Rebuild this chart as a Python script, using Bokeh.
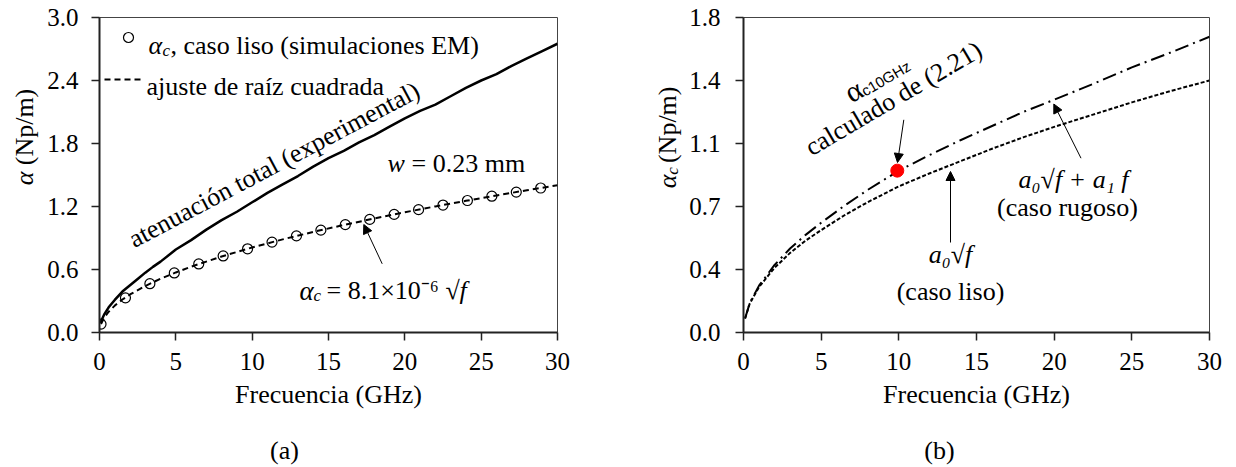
import math
from bokeh.plotting import figure
from bokeh.layouts import row, column
from bokeh.models import Range1d, FixedTicker, Arrow, NormalHead
from bokeh.core.properties import value
from bokeh.embed import file_html
from bokeh.resources import INLINE

# ---------------- data ----------------
x_ticks = [0, 5, 10, 15, 20, 25, 30]
y_ticks_a = [0.0, 0.6, 1.2, 1.8, 2.4, 3.0]
y_tick_labels_a = ["0.0", "0.6", "1.2", "1.8", "2.4", "3.0"]
y_ticks_b = [0.0, 0.36, 0.72, 1.08, 1.44, 1.8]
y_tick_labels_b = ["0.0", "0.4", "0.7", "1.1", "1.4", "1.8"]

# (a) total measured attenuation
freq_exp = [0.05, 0.3, 0.6, 1.0, 1.5, 2.0, 2.5, 3.0, 3.5, 4.0, 5.0, 6.0, 7.0, 8.0, 9.0,
            10.0, 11.0, 12.0, 13.0, 14.0, 15.0, 16.0, 17.0, 18.0, 19.0, 20.0, 21.0, 22.0,
            23.0, 24.0, 25.0, 26.0, 27.0, 28.0, 29.0, 30.0]
alpha_exp = [0.09, 0.17, 0.24, 0.31, 0.39, 0.45, 0.51, 0.57, 0.625, 0.675, 0.79, 0.88, 0.98,
             1.07, 1.15, 1.24, 1.33, 1.41, 1.49, 1.58, 1.66, 1.73, 1.81, 1.88, 1.96, 2.04,
             2.11, 2.17, 2.25, 2.33, 2.40, 2.46, 2.54, 2.61, 2.68, 2.75]
# (a) EM simulations, smooth case
freq_sim = [0.1, 1.7, 3.3, 4.9, 6.5, 8.1, 9.7, 11.3, 12.9, 14.5, 16.1, 17.7, 19.3, 20.9,
            22.5, 24.1, 25.7, 27.3, 28.9]
alpha_sim = [0.08, 0.33, 0.465, 0.567, 0.653, 0.729, 0.797, 0.861, 0.92, 0.975, 1.027,
             1.077, 1.125, 1.17, 1.214, 1.257, 1.298, 1.337, 1.376]
# (a) square-root fit
freq_fit = [0.1, 0.3, 0.6, 1, 1.5, 2, 3, 4, 5, 6, 8, 10, 12, 14, 16, 18, 20, 22, 24, 26, 28, 30]
alpha_fit = [0.081, 0.140, 0.198, 0.256, 0.314, 0.362, 0.443, 0.512, 0.572, 0.627, 0.724,
             0.81, 0.887, 0.958, 1.024, 1.086, 1.145, 1.201, 1.254, 1.305, 1.355, 1.402]

# (b) smooth and rough models
freq_b = [0.1, 0.4, 1, 2, 3, 4, 5, 6.5, 8, 10, 12, 14, 16, 18, 20, 22.5, 25, 27.5, 30]
alpha_liso = [0.08, 0.165, 0.26, 0.37, 0.455, 0.525, 0.585, 0.67, 0.745, 0.835, 0.91, 0.98,
              1.05, 1.115, 1.175, 1.245, 1.315, 1.38, 1.44]
alpha_rugoso = [0.08, 0.168, 0.268, 0.386, 0.48, 0.558, 0.627, 0.725, 0.815, 0.925, 1.015,
                1.10, 1.18, 1.26, 1.33, 1.42, 1.515, 1.60, 1.69]
freq_10 = [9.9]
alpha_10 = [0.925]

SERIF = "Liberation Serif"
SANS = "Liberation Sans"
FS_TICK = "25px"
FS = "26px"
TOP_H = 425
W_A = 40      # strip holding the y title of (a)
W_B = 68      # strip holding the y title of (b)


def make_fig(ymax, fw, bl, br, bt, ticks, labels, ystand):
    p = figure(frame_width=fw, frame_height=315, x_range=Range1d(0, 30), y_range=Range1d(0, ymax),
               min_border_left=bl, min_border_right=br, min_border_top=bt,
               min_border_bottom=TOP_H - bt - 315,
               output_backend="svg", toolbar_location=None)
    p.grid.visible = False
    p.outline_line_color = "#444444"
    p.outline_line_width = 1
    p.background_fill_color = "white"
    p.border_fill_color = "white"
    for ax in (p.xaxis[0], p.yaxis[0]):
        ax.axis_line_color = "#222222"
        ax.axis_line_width = 2
        ax.major_tick_line_color = "#222222"
        ax.major_tick_line_width = 1.5
        ax.major_tick_in = 0
        ax.major_tick_out = 8
        ax.minor_tick_line_color = None
        ax.major_label_text_font = SERIF
        ax.major_label_text_font_size = FS_TICK
        ax.major_label_text_color = "black"
    p.xaxis[0].major_label_standoff = 12
    p.yaxis[0].major_label_standoff = ystand
    p.xaxis[0].ticker = FixedTicker(ticks=x_ticks)
    p.yaxis[0].ticker = FixedTicker(ticks=ticks)
    p.yaxis[0].major_label_overrides = {t: l for t, l in zip(ticks, labels)}
    p.xaxis[0].major_label_overrides = {t: str(t) for t in x_ticks}
    p.xaxis[0].axis_label = "Frecuencia (GHz)"
    p.xaxis[0].axis_label_text_font = SERIF
    p.xaxis[0].axis_label_text_font_style = "normal"
    p.xaxis[0].axis_label_text_font_size = FS
    p.xaxis[0].axis_label_text_color = "black"
    p.xaxis[0].axis_label_standoff = 7
    return p


def blank(w, h):
    p = figure(width=w, height=h, x_range=Range1d(0, w), y_range=Range1d(0, h),
               x_axis_type=None, y_axis_type=None, min_border=0,
               output_backend="svg", toolbar_location=None)
    p.grid.visible = False
    p.outline_line_color = None
    p.background_fill_color = "white"
    p.border_fill_color = "white"
    return p


def txt(p, x, y, t, size=FS, style="normal", font=SERIF, align="left",
        baseline="alphabetic", angle=0.0):
    p.text(x=[x], y=[y], text=[t], text_font=value(font), text_font_size=size,
           text_font_style=style, text_align=align, text_baseline=baseline,
           angle=angle, text_color="black")


def arrow(p, xs, ys, xe, ye):
    p.add_layout(Arrow(end=NormalHead(size=9, fill_color="black", line_color="black", line_width=1),
                       x_start=xs, y_start=ys, x_end=xe, y_end=ye,
                       line_color="black", line_width=1))


# pixel -> data helpers for annotation placement (frame geometry)
def LX(px): return (px - 99) * 30 / 458
def LY(py): return (332 - py) * 3.0 / 315
def RX(px): return (px - 743) * 30 / 466
def RY(py): return (331 - py) * 1.8 / 315


# ---------------- panel (a) ----------------
p1 = make_fig(3.0, 458, 99 - W_A, 61, 17, y_ticks_a, y_tick_labels_a, 13)
p1.line(freq_exp, alpha_exp, line_color="black", line_width=2.5)
p1.line(freq_fit, alpha_fit, line_color="black", line_width=2, line_dash="6 4")
p1.scatter(freq_sim, alpha_sim, marker="circle", size=10, fill_color=None,
           line_color="black", line_width=1.2)

# manual legend
p1.scatter([LX(128)], [LY(37)], marker="circle", size=10, fill_color=None,
           line_color="black", line_width=1.2)
txt(p1, LX(148), LY(45), "α", style="italic")
txt(p1, LX(162), LY(50), "c", size="17px", style="italic")
txt(p1, LX(170), LY(45), ", caso liso (simulaciones EM)")
p1.line([LX(104), LX(142)], [LY(79), LY(79)], line_color="black", line_width=2, line_dash="6 4")
txt(p1, LX(146), LY(86), "ajuste de raíz cuadrada")

# annotations
txt(p1, LX(273.6), LY(164.3), "atenuación total (experimental)", align="center",
    baseline="middle", angle=0.487)
txt(p1, LX(387), LY(163), "w", style="italic")
txt(p1, LX(411), LY(163), "= 0.23 mm")
txt(p1, LX(299), LY(290), "α", style="italic", size="27px")
txt(p1, LX(313), LY(295), "c", size="17px", style="italic")
txt(p1, LX(326), LY(290), "= 8.1×10⁻⁶ √")
txt(p1, LX(459), LY(290), "f", style="italic")
arrow(p1, LX(381.7), LY(263.3), LX(363.3), LY(224))

# ---------------- panel (b) ----------------
p2 = make_fig(1.8, 466, 743 - 618 - W_B, 27, 16, y_ticks_b, y_tick_labels_b, 15)
p2.line(freq_b, alpha_liso, line_color="black", line_width=2, line_dash="4 2")
p2.line(freq_b, alpha_rugoso, line_color="black", line_width=2, line_dash="14 5 2 5")
p2.scatter(freq_10, alpha_10, marker="circle", size=13, fill_color="red", line_color="red")

ang = 0.532
ux, uy = math.cos(ang), -math.sin(ang)   # along-text (screen, y down)
dx, dy = math.sin(ang), math.cos(ang)    # downward normal
txt(p2, RX(893), RY(97), "calculado de (2.21)", align="center", baseline="middle", angle=ang)
ax0, ay0 = 846, 93
txt(p2, RX(ax0), RY(ay0), "α", size="30px", angle=ang)
txt(p2, RX(ax0 + 15 * ux + 6 * dx), RY(ay0 + 15 * uy + 6 * dy), "c10GHz", size="15px",
    font=SANS, angle=ang)
arrow(p2, RX(903.3), RY(118.3), RX(897), RY(161))

txt(p2, RX(1073), RY(178), "a₀√f + a₁ f", style="italic", align="center", baseline="middle")
txt(p2, RX(1067), RY(206), "(caso rugoso)", align="center", baseline="middle")
arrow(p2, RX(1080.5), RY(156.7), RX(1053.3), RY(102.5))

txt(p2, RX(950), RY(253), "a₀√f", style="italic", align="center", baseline="middle")
txt(p2, RX(950), RY(290), "(caso liso)", align="center", baseline="middle")
arrow(p2, RX(950), RY(241), RX(950), RY(170))

# ---------------- y-axis titles (side strips) ----------------
fa = blank(W_A, TOP_H)
txt(fa, 24, TOP_H - 227, "α", style="italic", baseline="middle", angle=math.pi / 2)
txt(fa, 24, TOP_H - 200, "(Np/m)", baseline="middle", angle=math.pi / 2)

fb = blank(W_B, TOP_H)
txt(fb, 49, TOP_H - 231, "α", style="italic", baseline="middle", angle=math.pi / 2)
txt(fb, 54, TOP_H - 213, "c", size="17px", style="italic", baseline="middle", angle=math.pi / 2)
txt(fb, 49, TOP_H - 197, "(Np/m)", baseline="middle", angle=math.pi / 2)

# ---------------- captions ----------------
cap = blank(1236, 467 - TOP_H)
txt(cap, 284, 467 - TOP_H - 25, "(a)", align="center", baseline="middle")
txt(cap, 939, 467 - TOP_H - 25, "(b)", align="center", baseline="middle")

layout = column(row(fa, p1, fb, p2), cap)
open("out.html", "w").write(file_html(layout, INLINE))
